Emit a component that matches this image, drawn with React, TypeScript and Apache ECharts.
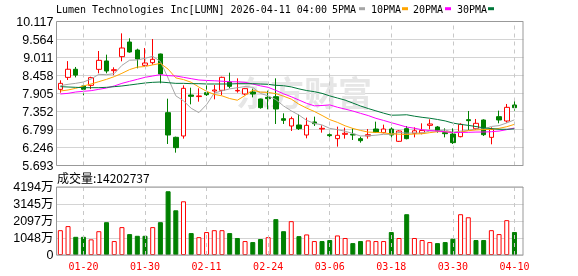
import React, { useEffect, useRef } from "react";
import * as echarts from "echarts";

// ---- data ----
const dates = [
  "01-14","01-15","01-16","01-20","01-21","01-22","01-23","01-26","01-27","01-28","01-29","01-30",
  "02-02","02-03","02-04","02-05","02-06","02-09","02-10","02-11","02-12","02-13","02-17","02-18",
  "02-19","02-20","02-23","02-24","02-25","02-26","02-27","03-02","03-03","03-04","03-05","03-06",
  "03-09","03-10","03-11","03-12","03-13","03-16","03-17","03-18","03-19","03-20","03-23","03-24",
  "03-25","03-26","03-27","03-30","03-31","04-01","04-02","04-06","04-07","04-08","04-09","04-10",
];
const tickDates = ["01-20","01-30","02-11","02-24","03-06","03-18","03-30","04-10"];

const opens = [
  8.033,8.40,8.65,8.136,8.156,8.647,8.904,8.607,9.037,9.487,
  9.241,8.77,8.852,9.119,7.316,6.559,6.60,7.859,7.81,7.931,
  7.982,8.002,8.258,7.985,7.89,7.951,7.736,7.787,7.808,7.132,
  6.907,6.937,6.63,7.03,6.814,6.64,6.518,6.651,6.651,6.518,
  6.60,6.814,6.702,6.814,6.436,6.825,6.681,6.69,6.927,6.876,
  6.702,6.661,6.579,7.101,6.825,7.091,6.558,7.194,7.06,7.552,
];
const closes = [
  8.217,8.65,8.47,8.033,8.392,8.924,8.596,8.637,9.303,9.18,
  8.965,8.842,8.955,8.504,6.63,6.241,8.064,7.818,7.83,7.869,
  8.013,8.402,8.125,8.0,8.054,7.89,7.47,7.746,7.429,7.081,
  7.132,6.825,6.927,6.978,6.835,6.61,6.62,6.682,6.63,6.456,
  6.64,6.712,6.814,6.63,6.753,6.518,6.76,6.77,6.968,6.753,
  6.671,6.395,6.958,7.071,6.989,6.64,6.804,7.091,7.48,7.47,
];
const lows = [
  7.93,8.32,8.40,7.849,8.04,8.525,8.525,8.47,8.893,9.16,
  8.678,8.76,8.79,8.218,6.354,6.088,6.518,7.572,7.654,7.828,
  7.726,7.859,8.064,7.931,7.849,7.787,7.44,7.419,6.968,6.968,
  6.753,6.784,6.528,6.907,6.702,6.558,6.272,6.518,6.477,6.395,
  6.518,6.692,6.681,6.548,6.415,6.497,6.558,6.651,6.804,6.702,
  6.558,6.354,6.558,6.784,6.784,6.60,6.344,6.989,7.009,7.378,
];
const highs = [
  8.31,8.90,8.72,8.197,8.42,9.211,9.098,8.71,9.753,9.60,
  9.282,9.303,9.579,9.13,7.746,6.58,8.156,8.084,8.064,8.279,
  8.166,8.422,8.545,8.371,8.064,8.054,7.746,7.992,8.371,7.296,
  7.194,7.265,7.163,7.194,6.927,6.753,6.886,6.855,6.835,6.579,
  6.814,7.04,6.948,6.866,6.774,6.907,6.866,6.989,7.112,6.907,
  6.835,6.835,6.989,7.368,7.122,7.112,6.866,7.378,7.583,7.685,
];
const volumes = [
  15310000,17820000,11220000,11220000,9650000,14680000,20240000,8600000,17200000,12900000,
  11850000,11850000,17200000,20240000,39320000,27580000,33130000,13530000,11010000,14150000,
  15310000,15310000,13530000,10490000,8600000,7970000,9860000,11010000,22120000,14680000,
  20870000,11640000,12690000,8600000,8600000,9230000,12060000,10490000,7340000,8600000,
  9020000,8600000,8600000,14150000,10490000,25160000,10490000,9230000,7970000,7340000,
  7970000,10070000,25160000,23280000,9230000,9230000,15310000,12900000,21490000,14202737,
];
// moving-average values before a full window is available
const ma5Head = [8.146, 8.187, 8.217, 8.258];
const ma10Head = [7.982, 8.013, 8.064, 8.136, 8.197, 8.269, 8.34, 8.422, 8.525];
const ma20Head = [7.89, 7.91, 7.951, 7.972, 7.992, 8.033, 8.074, 8.136, 8.217, 8.279,
  8.34, 8.402, 8.443, 8.484, 8.453, 8.443, 8.402, 8.361, 8.32];
const ma30Head = [8.115, 8.105, 8.095, 8.084, 8.084, 8.084, 8.095, 8.115, 8.136, 8.166,
  8.197, 8.228, 8.248, 8.258, 8.238, 8.217, 8.217, 8.207, 8.207, 8.197,
  8.197, 8.197, 8.197, 8.207, 8.207, 8.207, 8.197, 8.187, 8.156];

const priceTicks = { min: 5.693, max: 10.117, step: 0.553 };
const volTicks = { min: 0, max: 41940000, step: 10485000 };

const titleText = "Lumen Technologies Inc[LUMN] 2026-04-11 04:00";
const maNames = ["5PMA", "10PMA", "20PMA", "30PMA"];
const maColors = ["#a6a6a6", "#ffa500", "#ff00ff", "#00773a"];
const volLabel = "成交量:";

const RED = "#ff0000";
const GREEN = "#008000";

function movingAvg(n: number, head: number[]) {
  return closes.map((_, i) => {
    if (i < n - 1) return head[i];
    let s = 0;
    for (let k = i - n + 1; k <= i; k++) s += closes[k];
    return +(s / n).toFixed(3);
  });
}

export default function App() {
  const ref = useRef<HTMLDivElement>(null);
  useEffect(() => {
    if (!ref.current) return;
    const chart = echarts.init(ref.current, undefined, { renderer: "svg" });
    const cats = [...dates, ""];
    const candleData = dates.map((_, i) => [opens[i], closes[i], lows[i], highs[i]]);
    const volData = volumes.map((v, i) => {
      const up = i === 0 ? closes[0] >= opens[0] : closes[i] >= closes[i - 1];
      return {
        value: v,
        itemStyle: up
          ? { color: "#ffffff", borderColor: RED, borderWidth: 1 }
          : { color: GREEN, borderColor: GREEN, borderWidth: 1 },
      };
    });
    const mas = [movingAvg(5, ma5Head), movingAvg(10, ma10Head), movingAvg(20, ma20Head), movingAvg(30, ma30Head)];
    const vLines = {
      silent: true,
      symbol: ["none", "none"],
      label: { show: false },
      lineStyle: { color: "#c8c8c8", type: [4, 4], width: 1 },
      data: tickDates.map((d) => ({ xAxis: d })),
    };
    const gridL = 56.5;
    const gridW = 469.5;
    const legendX = [332, 371, 413, 457];
    const squareX = [359, 402, 445, 488];
    const mono = '"DejaVu Sans Mono", monospace';

    const graphics: any[] = [
      {
        type: "text", x: 236, y: 91, z: 1, silent: true,
        style: { text: "东方财富", font: 'bold 34px "Noto Sans CJK SC"', fill: "#e6e6e6", verticalAlign: "middle" },
      },
      {
        type: "text", x: 56, y: 9, z: 10,
        style: { text: titleText, font: `10px ${mono}`, fill: "#000", verticalAlign: "middle" },
      },
      {
        type: "text", x: 57, y: 177.5, z: 10,
        style: { text: volLabel + volumes[volumes.length - 1], font: '12px "Noto Sans CJK SC"', fill: "#000", verticalAlign: "middle" },
      },
      { type: "rect", z: 50, shape: { x: 523.5, y: 15, width: 12, height: 245 }, style: { fill: "#ffffff" } },
      { type: "rect", z: 60, shape: { x: 56.5, y: 21.5, width: 466.5, height: 144 }, style: { fill: "none", stroke: "#999", lineWidth: 1 } },
      { type: "rect", z: 60, shape: { x: 56.5, y: 187, width: 466.5, height: 68 }, style: { fill: "none", stroke: "#999", lineWidth: 1 } },
    ];
    maNames.forEach((n, k) => {
      graphics.push({
        type: "text", x: legendX[k], y: 9, z: 10,
        style: { text: n, font: `10px ${mono}`, fill: "#000", verticalAlign: "middle" },
      });
      graphics.push({
        type: "rect", z: 10, shape: { x: squareX[k], y: 7.2, width: 6, height: 3 }, style: { fill: maColors[k] },
      });
    });

    chart.setOption({
      animation: false,
      grid: [
        { left: gridL, top: 21.5, width: gridW, height: 144, show: false },
        { left: gridL, top: 187, width: gridW, height: 68, show: false },
      ],
      xAxis: [
        {
          type: "category", gridIndex: 0, data: cats, boundaryGap: true,
          axisLine: { show: false }, axisTick: { show: false }, axisLabel: { show: false }, splitLine: { show: false },
        },
        {
          type: "category", gridIndex: 1, data: cats, boundaryGap: true,
          axisLine: { show: false }, axisTick: { show: false }, splitLine: { show: false },
          axisLabel: {
            show: true,
            interval: (_i: number, val: string) => tickDates.includes(val),
            color: RED, fontFamily: mono, fontSize: 10, margin: 6,
          },
        },
      ],
      yAxis: [
        {
          type: "value", gridIndex: 0, min: priceTicks.min, max: priceTicks.max, interval: priceTicks.step,
          axisLine: { show: false }, axisTick: { show: false },
          axisLabel: { formatter: (v: number) => v.toFixed(3), color: "#000", fontFamily: "Liberation Sans", fontSize: 12.5, margin: 3 },
          splitLine: { show: true, lineStyle: { color: "#d4d4d4", width: 1 } },
        },
        {
          type: "value", gridIndex: 1, min: volTicks.min, max: volTicks.max, interval: volTicks.step,
          axisLine: { show: false }, axisTick: { show: false },
          axisLabel: {
            formatter: (v: number) => (v === 0 ? "0" : Math.floor(v / 10000 + 1e-6) + "万"),
            color: "#000", fontFamily: '"Liberation Sans", "Noto Sans CJK SC"', fontSize: 12.5, margin: 3,
          },
          splitLine: { show: true, lineStyle: { color: "#d4d4d4", width: 1 } },
        },
      ],
      series: [
        {
          type: "candlestick", xAxisIndex: 0, yAxisIndex: 0, data: candleData, barWidth: 5,
          itemStyle: { color: "#ffffff", color0: GREEN, borderColor: RED, borderColor0: GREEN, borderWidth: 1 },
          markLine: vLines,
        },
        ...mas.map((d, k) => ({
          type: "line", name: maNames[k], xAxisIndex: 0, yAxisIndex: 0, data: d, symbol: "none",
          lineStyle: { color: maColors[k], width: 1 }, z: 4, silent: true,
        })),
        {
          type: "bar", xAxisIndex: 1, yAxisIndex: 1, data: volData, barWidth: 5,
          markLine: vLines,
        },
      ],
      graphic: { elements: graphics },
    });
    return () => chart.dispose();
  }, []);
  return <div ref={ref} style={{ position: "fixed", left: 0, top: 0, width: 578, height: 276 }} />;
}
